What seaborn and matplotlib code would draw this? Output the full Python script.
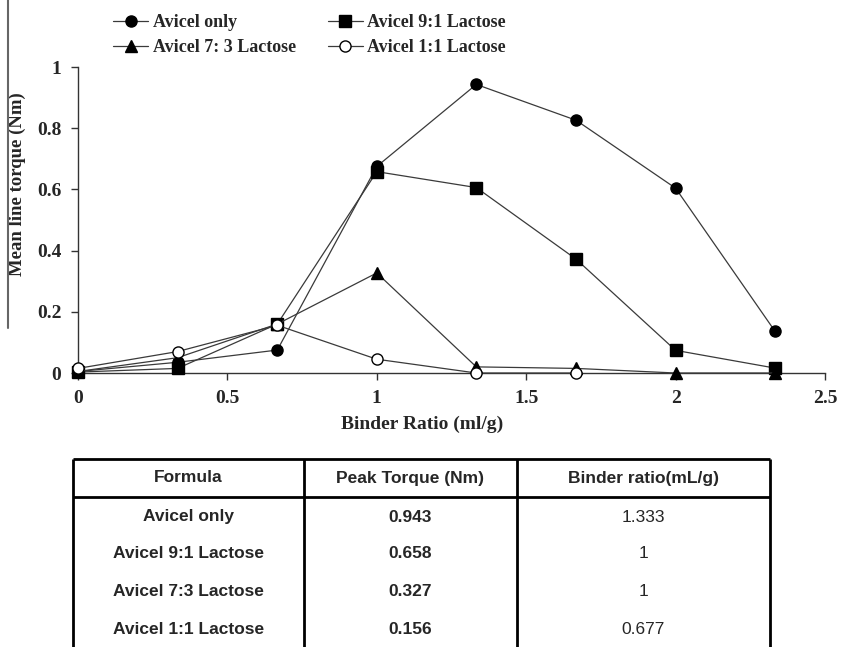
import numpy as np
import pandas as pd
import matplotlib
matplotlib.use("Agg")
import matplotlib.pyplot as plt
from matplotlib.lines import Line2D
import seaborn as sns

# Binder ratio (ml/g) for every measurement
binder_ratio = [0, 0.333, 0.667, 1.0, 1.333, 1.667, 2.0, 2.333]

# Mean line torque (Nm)
avicel_only = [0.005, 0.035, 0.075, 0.675, 0.943, 0.826, 0.604, 0.136]
avicel_9_1 = [0.003, 0.015, 0.16, 0.658, 0.606, 0.372, 0.074, 0.016]
avicel_7_3 = [0.005, 0.05, 0.16, 0.327, 0.02, 0.015, 0.0, 0.0]
avicel_1_1 = [0.015, 0.07, 0.156, 0.045, 0.0, 0.0]

# Summary table
table_header = ["Formula", "Peak Torque (Nm)", "Binder ratio(mL/g)"]
table_formula = ["Avicel only", "Avicel 9:1 Lactose", "Avicel 7:3 Lactose", "Avicel 1:1 Lactose"]
table_peak = ["0.943", "0.658", "0.327", "0.156"]
table_ratio = ["1.333", "1", "1", "0.677"]

sns.set_theme(style="white")
plt.rcParams['font.family'] = ['Liberation Serif', 'DejaVu Serif']
plt.rcParams['font.weight'] = 'bold'

fig = plt.figure(figsize=(8.41, 6.47), dpi=100)
ax = fig.add_axes([78 / 841, 1 - 373 / 647, (825 - 78) / 841, (373 - 67) / 647])

series = [
    ("Avicel only", avicel_only, "o", "black"),
    ("Avicel 9:1 Lactose", avicel_9_1, "s", "black"),
    ("Avicel 7: 3 Lactose", avicel_7_3, "^", "black"),
    ("Avicel 1:1 Lactose", avicel_1_1, "o", "white"),
]

handles = {}
for name, vals, mk, fc in series:
    df = pd.DataFrame({"x": binder_ratio[:len(vals)], "y": vals})
    sns.lineplot(data=df, x="x", y="y", ax=ax, color="#3a3a3a", linewidth=0.9,
                 marker=mk, markersize=8, markerfacecolor=fc,
                 markeredgecolor="black", markeredgewidth=1.0, clip_on=False,
                 zorder=3)
    handles[name] = Line2D([], [], color="#3a3a3a", linewidth=0.9, marker=mk,
                           markersize=8, markerfacecolor=fc,
                           markeredgecolor="black")

ax.set_xlim(0, 2.5)
ax.set_ylim(0, 1)
ax.set_xticks([0, 0.5, 1, 1.5, 2, 2.5])
ax.set_xticklabels(["0", "0.5", "1", "1.5", "2", "2.5"])
ax.set_yticks([0, 0.2, 0.4, 0.6, 0.8, 1])
ax.set_yticklabels(["0", "0.2", "0.4", "0.6", "0.8", "1"])
ax.tick_params(axis="both", direction="out", length=5, width=1, color="#333333",
               labelsize=14, bottom=True, left=True, pad=7)
for lab in ax.get_xticklabels() + ax.get_yticklabels():
    lab.set_fontweight("bold")
sns.despine(ax=ax)
for sp in ["left", "bottom"]:
    ax.spines[sp].set_color("#333333")
    ax.spines[sp].set_linewidth(1.0)
ax.set_xlabel("Binder Ratio (ml/g)", fontsize=14, fontweight="bold")
ax.set_ylabel("Mean line torque (Nm)", fontsize=13.5, fontweight="bold")
ax.xaxis.set_label_coords((422 - 78) / 747, -(424 - 373) / 306)
ax.yaxis.set_label_coords(-(78 - 17.5) / 747, (373 - 184) / 306)
ax.xaxis.label.set_va("center")
ax.yaxis.label.set_va("center")

order = ["Avicel only", "Avicel 7: 3 Lactose", "Avicel 9:1 Lactose", "Avicel 1:1 Lactose"]
fig.legend([handles[k] for k in order], order, loc="upper left",
           bbox_to_anchor=(97 / 841, 1.0 + 2 / 647), ncol=2, frameon=False,
           prop={"size": 13, "weight": "bold"}, handlelength=1.95,
           handletextpad=0.25, columnspacing=1.75, labelspacing=0.45)

# scan border on the left
fig.add_artist(Line2D([8 / 841, 8 / 841], [1.0, 1 - 328 / 647],
                      transform=fig.transFigure, color="#666666", linewidth=1.5))

# table drawn in pixel coordinates
tax = fig.add_axes([0, 0, 1, 1])
tax.set_xlim(0, 841)
tax.set_ylim(647, 0)
tax.axis("off")
left, sep1, sep2, right = 72.7, 304, 517, 770
top, head = 459, 497
lk = dict(color="black", linewidth=2.0, solid_capstyle="butt")
tax.plot([left, right], [top, top], **lk)
tax.plot([left, right], [head, head], **lk)
for xv in [left, sep1, sep2, right]:
    tax.plot([xv, xv], [top, 647], **lk)

tfont = ['Liberation Sans Narrow', 'Liberation Sans', 'DejaVu Sans']
cx = [(left + sep1) / 2, (sep1 + sep2) / 2, (sep2 + right) / 2]
for c, h in zip(cx, table_header):
    tax.text(c, 478, h, ha="center", va="center", fontsize=12.5,
             fontweight="bold", family=tfont)
row_y = [517, 554, 592, 630]
for ry, f, p, r in zip(row_y, table_formula, table_peak, table_ratio):
    tax.text(cx[0], ry, f, ha="center", va="center", fontsize=12.5,
             fontweight="bold", family=tfont)
    tax.text(cx[1], ry, p, ha="center", va="center", fontsize=12.5,
             fontweight="bold", family=tfont)
    tax.text(cx[2], ry, r, ha="center", va="center", fontsize=12.5,
             fontweight="normal", family=tfont)

fig.savefig("out.png", dpi=100)
